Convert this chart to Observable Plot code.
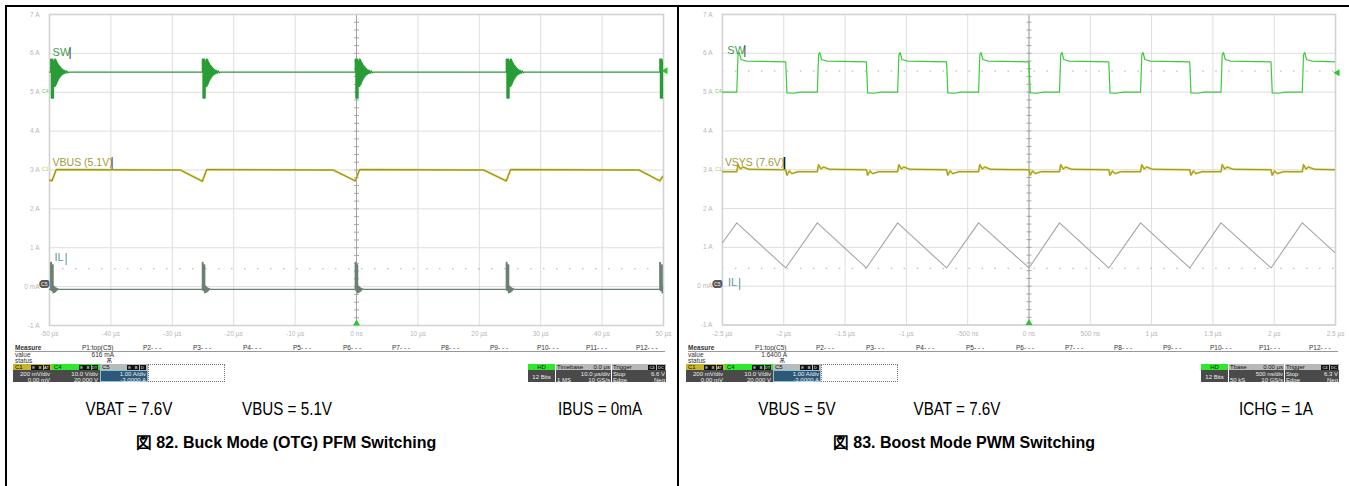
<!DOCTYPE html>
<html><head><meta charset="utf-8">
<script src="https://cdn.jsdelivr.net/npm/d3@7"></script>
<script src="https://cdn.jsdelivr.net/npm/@observablehq/plot@0.6"></script>
<style>
body{margin:0;background:#fff;}
#page{position:relative;width:1349px;height:486px;overflow:hidden;font-family:"Liberation Sans",Arial,sans-serif;background:#fff;}
#page div{position:absolute;white-space:nowrap;box-sizing:border-box;}
.hud{font-size:6.5px;line-height:6px;color:#333;}
.box{font-size:6px;line-height:6px;color:#eee;}
.cap{font-family:"Liberation Sans",Arial,sans-serif;font-size:19px;line-height:20px;color:#000;transform:scaleX(0.8);transform-origin:center;}
.ttl{font-size:16px;line-height:18px;font-weight:bold;color:#000;}
</style></head><body><div id="page"></div>
<script>
// ---------- shared axis data ----------
const yTicks = [7, 6, 5, 4, 3, 2, 1, 0, -1];
const yLabels = ["7 A", "6 A", "5 A", "4 A", "3 A", "2 A", "1 A", "0 mA", "-1 A"];

// ---------- Fig 82: Buck mode (OTG) PFM, time in µs ----------
const buckXTicks = [-50, -40, -30, -20, -10, 0, 10, 20, 30, 40, 50];
const buckXLabels = ["-50 µs", "-40 µs", "-30 µs", "-20 µs", "-10 µs", "0 ns", "10 µs", "20 µs", "30 µs", "40 µs", "50 µs"];
const buckBurstTimes = [-49.8, -25.1, -0.2, 24.4, 49.4];
const buckSwLevel = 5.52;
const buckSwBurst = [[0, 5.52], [0, 5.85], [0.1, 5.85], [0.1, 4.85], [0.2, 4.85], [0.2, 5.85], [0.35, 5.85], [0.35, 4.85], [0.45, 4.85], [0.45, 5.8], [0.55, 5.8], [0.6, 5.15], [0.65, 5.85], [0.7, 5.15], [0.75, 5.85], [0.8, 5.18], [0.85, 5.84], [0.9, 5.2], [0.95, 5.8], [1.0, 5.24], [1.05, 5.77], [1.1, 5.28], [1.15, 5.74], [1.2, 5.31], [1.25, 5.71], [1.3, 5.34], [1.35, 5.69], [1.4, 5.37], [1.45, 5.67], [1.5, 5.39], [1.55, 5.65], [1.6, 5.41], [1.65, 5.63], [1.7, 5.43], [1.75, 5.61], [1.8, 5.45], [1.85, 5.6], [1.9, 5.46], [1.95, 5.58], [2.0, 5.47], [2.1, 5.57], [2.2, 5.48], [2.3, 5.56], [2.45, 5.49], [2.6, 5.55], [2.8, 5.5], [3.0, 5.52]];
const buckIlLevel = -0.07;
const buckIlBurst = [[0, -0.07], [0, 0.62], [0.1, 0.62], [0.1, -0.1], [0.25, -0.1], [0.25, 0.56], [0.38, 0.56], [0.38, -0.16], [0.48, 0.02], [0.58, -0.15], [0.68, -0.01], [0.78, -0.13], [0.88, -0.03], [0.98, -0.1], [1.1, -0.05], [1.3, -0.07]];
const buckVbus = [[-50, 2.74], [-49.6, 2.72], [-48.9, 3.01], [-28.7, 3.0], [-25.1, 2.71], [-24.4, 3.01], [-3.8, 3.0], [-0.2, 2.72], [0.5, 3.01], [20.7, 3.0], [24.4, 2.72], [25.1, 3.01], [46.0, 3.0], [49.4, 2.72], [50, 2.86]];
const buckDotted = [0.46];
const buckLabels = ["SW", "VBUS (5.1V)", "IL"];

// ---------- Fig 83: Boost mode PWM, time in µs ----------
const boostXTicks = [-2.5, -2, -1.5, -1, -0.5, 0, 0.5, 1, 1.5, 2, 2.5];
const boostXLabels = ["-2.5 µs", "-2 µs", "-1.5 µs", "-1 µs", "-500 ns", "0 ns", "500 ns", "1 µs", "1.5 µs", "2 µs", "2.5 µs"];
const boostSwRise = [-2.383, -1.726, -1.071, -0.411, 0.249, 0.91, 1.566, 2.229];
const boostSwFall = [-1.984, -1.326, -0.672, 0.0, 0.651, 1.311, 1.974];
const boostSwStart = 5.0;
const boostSwEnd = 5.78;
const boostSwRiseShape = [[0, 5.0], [0.01, 5.96], [0.02, 6.02], [0.035, 5.84], [0.08, 5.8]];
const boostSwFallShape = [[0, 5.78], [0.01, 4.98], [0.06, 4.97], [0.12, 5.0]];
const boostVsysStart = 2.95;
const boostVsysEnd = 3.0;
const boostVsysRiseShape = [[0, 2.95], [0.01, 3.13], [0.03, 3.02], [0.05, 3.07], [0.1, 3.01]];
const boostVsysFallShape = [[0, 3.0], [0.01, 2.86], [0.03, 2.97], [0.05, 2.9], [0.1, 2.95]];
const boostIl = [[-2.5, 1.12], [-2.383, 1.63], [-1.984, 0.47], [-1.726, 1.63], [-1.326, 0.47], [-1.071, 1.63], [-0.672, 0.47], [-0.411, 1.63], [0.0, 0.47], [0.249, 1.63], [0.651, 0.47], [0.91, 1.63], [1.311, 0.47], [1.566, 1.63], [1.974, 0.47], [2.229, 1.63], [2.5, 0.85]];
const boostDotted = [5.54, 0.46];
const boostLabels = ["SW", "VSYS (7.6V)", "IL"];

// ---------- captions ----------
const buckCaptions = ["VBAT = 7.6V", "VBUS = 5.1V", "IBUS = 0mA"];
const boostCaptions = ["VBUS = 5V", "VBAT = 7.6V", "ICHG = 1A"];
const buckTitle = "図 82. Buck Mode (OTG) PFM Switching";
const boostTitle = "図 83. Boost Mode PWM Switching";

// ---------- scope HUD texts ----------
const measureHeaders = ["P1:top(C5)", "P2- - -", "P3- - -", "P4- - -", "P5- - -", "P6- - -", "P7- - -", "P8- - -", "P9- - -", "P10- - -", "P11- - -", "P12- - -"];
const buckHud = {value: "616 mA", tb: "Timebase", tbDelay: "0.0 µs", tbDiv: "10.0 µs/div", tbPts: "1 MS", trig: "6.6 V"};
const boostHud = {value: "1.6400 A", tb: "Tbase", tbDelay: "0.00 µs", tbDiv: "500 ns/div", tbPts: "50 kS", trig: "6.3 V"};
const chanBoxes = [
  {name: "C1", badges: ["E", "B", "AT"], l1: "200 mV/div", l2: "0.00 mV"},
  {name: "C4", badges: ["E", "B", "DT"], l1: "10.0 V/div", l2: "20.000 V"},
  {name: "C5", badges: ["E", "B", "D"], l1: "1.00 A/div", l2: "-3.0000 A"}
];

// ---------- build series ----------
function bursts(times, shape, level, x0, x1) {
  const pts = [[x0, level]];
  for (const t of times) for (const [dt, v] of shape) pts.push([t + dt, v]);
  pts.push([x1, level]);
  return pts.map(([t, v]) => ({t, v}));
}
function edges(rises, falls, riseShape, fallShape, start, end, x0, x1) {
  const ev = [...rises.map(t => [t, riseShape]), ...falls.map(t => [t, fallShape])].sort((a, b) => a[0] - b[0]);
  const pts = [[x0, start]];
  for (const [t, shape] of ev) for (const [dt, v] of shape) pts.push([t + dt, v]);
  pts.push([x1, end]);
  return pts.map(([t, v]) => ({t, v}));
}
const toTV = arr => arr.map(([t, v]) => ({t, v}));

const buckSeries = [
  {data: bursts(buckBurstTimes, buckSwBurst, buckSwLevel, -50, 50), stroke: "#2a9c35", w: 1.3},
  {data: toTV(buckVbus), stroke: "#d9d24e", w: 2.2},
  {data: toTV(buckVbus), stroke: "#858020", w: 0.9},
  {data: bursts(buckBurstTimes, buckIlBurst, buckIlLevel, -50, 50), stroke: "#6b8070", w: 1.3}
];
const vsys = edges(boostSwRise, boostSwFall, boostVsysRiseShape, boostVsysFallShape, boostVsysStart, boostVsysEnd, -2.5, 2.5);
const boostSeries = [
  {data: edges(boostSwRise, boostSwFall, boostSwRiseShape, boostSwFallShape, boostSwStart, boostSwEnd, -2.5, 2.5), stroke: "#3ccc3c", w: 1.2},
  {data: vsys, stroke: "#d6ce48", w: 2},
  {data: vsys, stroke: "#8f8a25", w: 0.8},
  {data: toTV(boostIl), stroke: "#aaa59c", w: 1.1}
];

const minorY = d3.range(-1, 7.001, 0.2);

function scope(o) {
  const [xa, xb] = o.xDomain;
  const span = xb - xa;
  const marks = [
    Plot.gridX(o.xTicks, {stroke: "#dedede", strokeOpacity: 1}),
    Plot.gridY(yTicks, {stroke: "#dedede", strokeOpacity: 1}),
    Plot.ruleY(o.dotted, {stroke: "#b0b0b0", strokeDasharray: "1.5,11.5"}),
    Plot.ruleX([0], {stroke: "#a5a5a5"}),
    Plot.link(minorY, {x1: -span * 0.004, x2: span * 0.004, y1: d => d, y2: d => d, stroke: "#a5a5a5"}),
    Plot.frame({stroke: "#d2d2d2", strokeWidth: 1.6}),
    ...o.series.map(s => Plot.line(s.data, {x: "t", y: "v", stroke: s.stroke, strokeWidth: s.w, clip: true})),
    Plot.text([o.labels[0]], {x: xa + span * o.lx[0], y: o.ly[0], text: d => d, textAnchor: "start", fontSize: 11, fill: o.lc[0]}),
    Plot.text([o.labels[1]], {x: xa + span * o.lx[1], y: o.ly[1], text: d => d, textAnchor: "start", fontSize: 10.5, fill: o.lc[1]}),
    Plot.text([o.labels[2]], {x: xa + span * o.lx[2], y: o.ly[2], text: d => d, textAnchor: "start", fontSize: 11, fill: o.lc[2]}),
    Plot.axisY(yTicks, {tickFormat: d => yLabels[yTicks.indexOf(d)], tickSize: 0, tickPadding: 10, fontSize: 6.5, fill: "#b8b8b8", label: null}),
    Plot.axisX(o.xTicks, {tickFormat: d => o.xLabels[o.xTicks.indexOf(d)], tickSize: 0, tickPadding: 6, fontSize: 6.5, fill: "#b8b8b8", label: null}),
    Plot.text(["C4"], {x: xa, y: 5.02, text: d => d, dx: -1, textAnchor: "end", fontSize: 5, fill: "#5acb5a"}),
    Plot.text(["C1"], {x: xa, y: 3.02, text: d => d, dx: -1, textAnchor: "end", fontSize: 5, fill: "#c8c050"}),
    Plot.text(["C5"], {x: xa, y: 0.05, text: d => d, dx: -2, textAnchor: "end", fontSize: 5, fill: "#fff", stroke: "#555", strokeWidth: 4, paintOrder: "stroke"}),
    Plot.dot([0], {x: d => d, y: -1, symbol: "triangle", r: 2.6, fill: "#2fc42f", stroke: "none", dy: -2}),
    Plot.dot([xb], {x: d => d, y: o.arrowY, symbol: "triangle", r: 2.6, rotate: -90, fill: "#2fc42f", stroke: "none", dx: 2})
  ];
  // cursor bars after the labels
  o.labels.forEach((lab, i) => {
    marks.push(Plot.text(["|"], {x: xa + span * o.lx[i], y: o.ly[i], text: d => d, dx: o.bar[i], textAnchor: "start", fontSize: 12, fill: i === 1 && o.darkBar ? "#111" : (i === 2 ? "#5d98a3" : "#444"), fontWeight: i === 1 && o.darkBar ? "bold" : "normal"}));
  });
  return Plot.plot({
    width: 672, height: 345,
    marginLeft: 44, marginRight: 14, marginTop: 14, marginBottom: 20,
    x: {domain: o.xDomain}, y: {domain: [-1, 7]},
    style: {fontFamily: "Liberation Sans, Arial, sans-serif", background: "transparent", overflow: "visible"},
    marks
  });
}

const page = document.getElementById("page");
function div(style, text, cls) {
  const e = document.createElement("div");
  if (cls) e.className = cls;
  Object.assign(e.style, style);
  if (text != null) e.textContent = text;
  page.appendChild(e);
  return e;
}

// frame lines
div({left: "5px", top: "5px", width: "1344px", height: "1.5px", background: "#000"});
div({left: "5px", top: "5px", width: "1.5px", height: "481px", background: "#000"});
div({left: "677px", top: "5px", width: "1.5px", height: "481px", background: "#000"});

const left = scope({
  xDomain: [-50, 50], xTicks: buckXTicks, xLabels: buckXLabels, series: buckSeries, dotted: buckDotted,
  labels: buckLabels, lx: [0.005, 0.005, 0.008], ly: [6.02, 3.19, 0.74], lc: ["#3f9c55", "#a09a45", "#5d98a3"],
  bar: [16, 58, 10], darkBar: false, arrowY: 5.55
});
const right = scope({
  xDomain: [-2.5, 2.5], xTicks: boostXTicks, xLabels: boostXLabels, series: boostSeries, dotted: boostDotted,
  labels: boostLabels, lx: [0.008, 0.004, 0.009], ly: [6.07, 3.19, 0.09], lc: ["#3f9c55", "#a09a45", "#5d98a3"],
  bar: [16, 58, 10], darkBar: true, arrowY: 5.5
});
const lw = div({left: "5px", top: "0px"}); lw.appendChild(left);
const rw = div({left: "678px", top: "0px"}); rw.appendChild(right);

// HUD below each scope
function badge(x, y, w, t) {
  div({left: x + "px", top: y + "px", width: w + "px", height: "5px", background: "#111", color: "#fff", fontSize: "4px", lineHeight: "5px", textAlign: "center"}, t);
}
function hud(ox, h) {
  div({left: (ox + 15) + "px", top: "344.5px", fontWeight: "bold"}, "Measure", "hud");
  const hx = [82, 143, 193, 243, 293, 343, 392, 441, 490, 537, 586, 636];
  measureHeaders.forEach((m, i) => div({left: (ox + hx[i]) + "px", top: "344.5px"}, m, "hud"));
  div({left: (ox + 15) + "px", top: "351px", width: "650px", height: "0.8px", background: "#999"});
  div({left: (ox + 15) + "px", top: "352px"}, "value", "hud");
  div({left: (ox + 60) + "px", top: "352px", width: "54px", textAlign: "right"}, h.value, "hud");
  div({left: (ox + 15) + "px", top: "357.5px"}, "status", "hud");
  div({left: (ox + 60) + "px", top: "357.5px", width: "52px", textAlign: "right"}, "Ѫ", "hud");
  const bx = [[13, 39], [52, 48], [100, 48]];
  const hc = ["#c6b52a", "#2de82d", "#b4bcbc"];
  const top = 364;
  chanBoxes.forEach((c, i) => {
    const [x, w] = bx[i];
    div({left: (ox + x) + "px", top: top + "px", width: w + "px", height: "6px", background: hc[i]});
    div({left: (ox + x + 2) + "px", top: top + "px", color: "#111"}, c.name, "box");
    c.badges.forEach((b, k) => badge(ox + x + w - 2 - (c.badges.length - k) * 6.5, top + 0.5, 6, b));
    div({left: (ox + x) + "px", top: (top + 6) + "px", width: w + "px", height: "12px", background: i === 2 ? "#2e5878" : "#4a4a4a", border: i === 2 ? "1px solid #8cc0d8" : "none"});
    div({left: (ox + x) + "px", top: (top + 6.5) + "px", width: (w - 2) + "px", textAlign: "right"}, c.l1, "box");
    div({left: (ox + x) + "px", top: (top + 12.5) + "px", width: (w - 2) + "px", textAlign: "right"}, c.l2, "box");
  });
  div({left: (ox + 148) + "px", top: top + "px", width: "77px", height: "18px", border: "1px dotted #777"});
  // HD box
  const hdx = ox + 528;
  div({left: hdx + "px", top: top + "px", width: "27px", height: "6px", background: "#2de82d"});
  div({left: hdx + "px", top: top + "px", width: "27px", textAlign: "center", color: "#111"}, "HD", "box");
  div({left: hdx + "px", top: (top + 6) + "px", width: "27px", height: "12px", background: "#4a4a4a"});
  div({left: hdx + "px", top: (top + 9.5) + "px", width: "27px", textAlign: "center"}, "12 Bits", "box");
  // Timebase
  const tbx = ox + 556;
  div({left: tbx + "px", top: top + "px", width: "55px", height: "18px", background: "#4a4a4a"});
  div({left: tbx + "px", top: top + "px", width: "55px", height: "6px", background: "#b8b8b8"});
  div({left: (tbx + 1) + "px", top: top + "px", color: "#111"}, h.tb, "box");
  div({left: tbx + "px", top: top + "px", width: "54px", textAlign: "right", color: "#111"}, h.tbDelay, "box");
  div({left: tbx + "px", top: (top + 6.5) + "px", width: "54px", textAlign: "right"}, h.tbDiv, "box");
  div({left: (tbx + 1) + "px", top: (top + 12.5) + "px"}, h.tbPts, "box");
  div({left: tbx + "px", top: (top + 12.5) + "px", width: "54px", textAlign: "right"}, "10 GS/s", "box");
  // Trigger
  const trx = ox + 612;
  div({left: trx + "px", top: top + "px", width: "54px", height: "18px", background: "#4a4a4a"});
  div({left: trx + "px", top: top + "px", width: "54px", height: "6px", background: "#b8b8b8"});
  div({left: (trx + 1) + "px", top: top + "px", color: "#111"}, "Trigger", "box");
  badge(trx + 36, top + 0.5, 8, "C4");
  badge(trx + 45, top + 0.5, 8, "DC");
  div({left: (trx + 1) + "px", top: (top + 6.5) + "px"}, "Stop", "box");
  div({left: trx + "px", top: (top + 6.5) + "px", width: "53px", textAlign: "right"}, h.trig, "box");
  div({left: (trx + 1) + "px", top: (top + 12.5) + "px"}, "Edge", "box");
  div({left: trx + "px", top: (top + 12.5) + "px", width: "53px", textAlign: "right"}, "Neg", "box");
}
hud(0, buckHud);
hud(673, boostHud);

// captions
function centered(cx, top, text, cls) {
  div({left: (cx - 200) + "px", top: top + "px", width: "400px", textAlign: "center"}, text, cls);
}
const capX = [[129, 287, 600], [797, 957, 1276]];
buckCaptions.forEach((c, i) => centered(capX[0][i], 399, c, "cap"));
boostCaptions.forEach((c, i) => centered(capX[1][i], 399, c, "cap"));
centered(286, 434, buckTitle, "ttl");
centered(964, 434, boostTitle, "ttl");
</script>
</body></html>
